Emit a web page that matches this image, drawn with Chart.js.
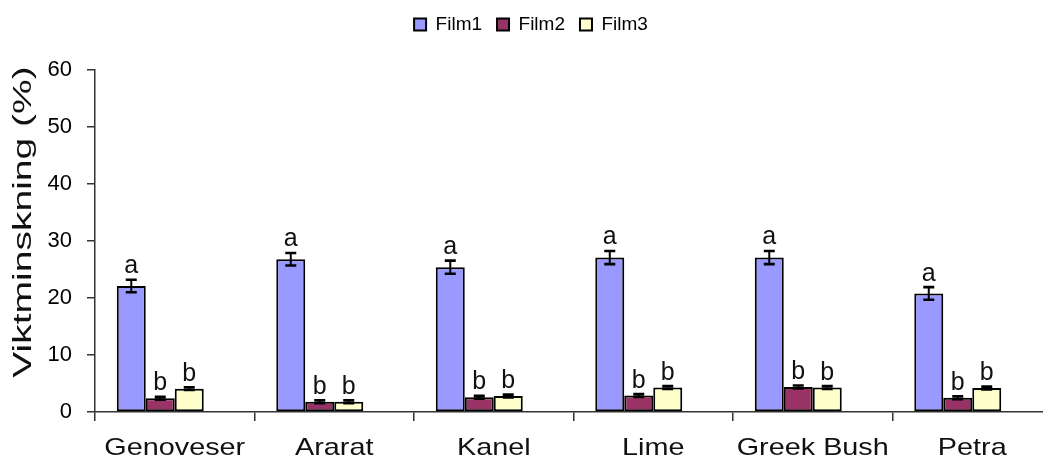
<!DOCTYPE html>
<html>
<head>
<meta charset="utf-8">
<title>Viktminskning</title>
<script src="https://cdn.jsdelivr.net/npm/chart.js@4.4.1/dist/chart.umd.min.js"></script>
<style>
  html, body { margin: 0; padding: 0; background: #fff; overflow: hidden; }
  #wrap { width: 1043px; height: 460px; overflow: hidden; }
  canvas { display: block; }
</style>
</head>
<body>
<div id="wrap"><canvas id="c" width="1060" height="460"></canvas></div>
<script>
// Cultivars on the x axis
const categories = ['Genoveser', 'Ararat', 'Kanel', 'Lime', 'Greek Bush', 'Petra'];

// Weight loss (%) per film, with standard errors
const film1 = [22.1, 26.8, 25.4, 27.1, 27.1, 20.8];
const film2 = [2.4, 1.8, 2.6, 2.9, 4.4, 2.5];
const film3 = [4.1, 1.8, 2.8, 4.3, 4.3, 4.2];
const film1Err = [1.1, 1.1, 1.15, 1.15, 1.15, 1.1];
const film2Err = [0.25, 0.25, 0.25, 0.25, 0.25, 0.25];
const film3Err = [0.25, 0.25, 0.25, 0.25, 0.25, 0.25];

// Significance letters above each bar
const film1Letters = ['a', 'a', 'a', 'a', 'a', 'a'];
const film2Letters = ['b', 'b', 'b', 'b', 'b', 'b'];
const film3Letters = ['b', 'b', 'b', 'b', 'b', 'b'];

// Empty fourth slot in every group
const spacer = [null, null, null, null, null, null];

// Axis ticks
const yTicks = [0, 10, 20, 30, 40, 50, 60];
const yTitle = 'Viktminskning (%)';

const FONT = "'Liberation Sans', Arial, sans-serif";
const AXIS = '#333333';

const errors = [film1Err, film2Err, film3Err];
const letters = [film1Letters, film2Letters, film3Letters];

// Capped error bars and significance letters
const errorBars = {
  id: 'errorBars',
  afterDatasetsDraw(chart) {
    const ctx = chart.ctx;
    const y = chart.scales.y;
    errors.forEach((errs, di) => {
      const meta = chart.getDatasetMeta(di);
      const values = chart.data.datasets[di].data;
      meta.data.forEach((bar, i) => {
        const v = values[i];
        const e = errs[i];
        const top = y.getPixelForValue(v + e);
        const bot = y.getPixelForValue(v - e);
        const x = bar.x;
        const half = 5.5;
        ctx.save();
        ctx.strokeStyle = '#000';
        ctx.lineWidth = 2;
        ctx.beginPath();
        ctx.moveTo(x, top); ctx.lineTo(x, bot);
        ctx.stroke();
        ctx.lineWidth = 2.6;
        ctx.beginPath();
        ctx.moveTo(x - half, top); ctx.lineTo(x + half, top);
        ctx.moveTo(x - half, bot); ctx.lineTo(x + half, bot);
        ctx.stroke();
        ctx.fillStyle = '#111';
        ctx.font = '25px ' + FONT;
        ctx.textAlign = 'center';
        ctx.textBaseline = 'alphabetic';
        ctx.fillText(letters[di][i], x, top - 6.5);
        ctx.restore();
      });
    });
  }
};

// Category names and the y-axis title, drawn in a wide face
const wideText = {
  id: 'wideText',
  afterDraw(chart) {
    const ctx = chart.ctx;
    const xs = chart.scales.x;
    ctx.save();
    ctx.fillStyle = '#111';
    ctx.font = '24px ' + FONT;
    ctx.textAlign = 'center';
    ctx.textBaseline = 'alphabetic';
    chart.data.labels.forEach((label, i) => {
      const x = xs.getPixelForValue(i);
      ctx.save();
      ctx.translate(x, 455);
      ctx.scale(1.2, 1);
      ctx.fillText(label, 0, 0);
      ctx.restore();
    });
    ctx.save();
    ctx.font = '26px ' + FONT;
    ctx.translate(31, 222);
    ctx.rotate(-Math.PI / 2);
    ctx.scale(1.5, 1);
    ctx.fillText(yTitle, 0, 0);
    ctx.restore();
    ctx.restore();
  }
};

// Room between the legend and the plot
const legendRoom = {
  id: 'legendRoom',
  beforeInit(chart) {
    const fit = chart.legend.fit;
    chart.legend.fit = function () {
      fit.call(this);
      this.height = 70;
    };
  }
};

const common = { borderColor: '#000', borderWidth: 2, borderSkipped: false };

new Chart(document.getElementById('c'), {
  type: 'bar',
  data: {
    labels: categories,
    datasets: [
      { label: 'Film1', data: film1, backgroundColor: '#9999FF', ...common },
      { label: 'Film2', data: film2, backgroundColor: '#993366', ...common },
      { label: 'Film3', data: film3, backgroundColor: '#FFFFCC', ...common },
      { label: '', data: spacer, backgroundColor: 'rgba(0,0,0,0)', borderWidth: 0 }
    ]
  },
  options: {
    responsive: false,
    animation: false,
    events: [],
    layout: { padding: { left: 10, right: 8, top: 0, bottom: 0 } },
    datasets: { bar: { barPercentage: 1, categoryPercentage: 0.727 } },
    plugins: {
      tooltip: { enabled: false },
      legend: {
        position: 'top',
        labels: {
          filter: (item) => item.datasetIndex < 3,
          boxWidth: 12,
          boxHeight: 12,
          padding: 15,
          color: '#000',
          font: { family: FONT, size: 19 }
        }
      }
    },
    scales: {
      x: {
        offset: true,
        grid: { offset: true, drawOnChartArea: false, drawTicks: true, tickLength: 9, color: AXIS, lineWidth: 1.5 },
        border: { display: true, color: AXIS, width: 1.5 },
        ticks: { display: false },
        afterFit(scale) { scale.height = 48; }
      },
      y: {
        min: 0,
        max: 60,
        afterBuildTicks(scale) { scale.ticks = yTicks.map(v => ({ value: v })); },
        grid: { drawOnChartArea: false, drawTicks: true, tickLength: 8, color: AXIS, lineWidth: 1.5 },
        border: { display: true, color: AXIS, width: 1.5 },
        ticks: { color: '#000', padding: 15, font: { family: FONT, size: 22 } },
        afterFit(scale) { scale.width = 85; }
      }
    }
  },
  plugins: [legendRoom, errorBars, wideText]
});
</script>
</body>
</html>
